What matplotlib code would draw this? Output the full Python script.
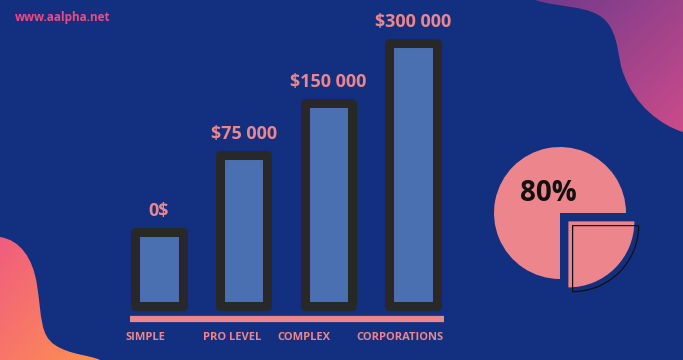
import numpy as np
import matplotlib
matplotlib.use('Agg')
from matplotlib import pyplot as plt
from matplotlib.path import Path
from matplotlib.patches import PathPatch

BG = '#12307f'
PINK = '#ec868c'
BAR_FILL = '#4a70b1'
BAR_EDGE = '#282828'
FONT = 'Open Sans'

categories = ['SIMPLE', 'PRO LEVEL', 'COMPLEX', 'CORPORATIONS']
value_labels = ['0$', '$75 000', '$150 000', '$300 000']
# drawn bar heights (relative)
bar_heights = [74, 151, 203, 263]
pie_shares = [75, 25]
pie_label = '80%'

W, H = 683, 360
fig = plt.figure(figsize=(W / 100, H / 100), dpi=100)
fig.patch.set_facecolor(BG)

# background layer in pixel coordinates
bg = fig.add_axes([0, 0, 1, 1])
bg.set_xlim(0, W)
bg.set_ylim(H, 0)
bg.axis('off')
bg.set_facecolor(BG)


def gradient_blob(ax, verts, codes, c0, c1, extent):
    path = Path(verts, codes)
    patch = PathPatch(path, facecolor='none', edgecolor='none')
    ax.add_patch(patch)
    t = np.linspace(0, 1, 200)
    g = (t[None, :] + t[:, None]) / 2
    c0 = np.array(c0) / 255.0
    c1 = np.array(c1) / 255.0
    img = c0[None, None, :] * (1 - g[..., None]) + c1[None, None, :] * g[..., None]
    im = ax.imshow(img, extent=extent, origin='upper', zorder=1, aspect='auto')
    im.set_clip_path(patch)


C = Path.CURVE4
tr_verts = [(535, 0), (560, 8), (590, 5), (605, 20),
            (620, 35), (617, 60), (624, 75),
            (635, 105), (660, 125), (683, 132),
            (683, 0), (535, 0)]
tr_codes = [Path.MOVETO, C, C, C, C, C, C, C, C, C, Path.LINETO, Path.CLOSEPOLY]
gradient_blob(bg, tr_verts, tr_codes, (112, 58, 140), (205, 75, 138), (535, 683, 135, 0))

bl_verts = [(0, 237), (20, 240), (33, 258), (37, 285),
            (42, 318), (40, 335), (55, 345),
            (70, 355), (90, 355), (100, 360),
            (0, 360), (0, 237)]
bl_codes = [Path.MOVETO, C, C, C, C, C, C, C, C, C, Path.LINETO, Path.CLOSEPOLY]
gradient_blob(bg, bl_verts, bl_codes, (240, 92, 128), (255, 145, 80), (0, 100, 360, 235))

bg.text(15, 17, 'www.aalpha.net', color='#ee4a80', fontsize=8.5, fontweight='bold',
        family=FONT, va='center', ha='left', zorder=3)

cat_x = [145, 232, 304, 400]
for x, c in zip(cat_x, categories):
    bg.text(x, 337, c, color=PINK, fontsize=8, fontweight='bold', family=FONT,
            ha='center', va='center', zorder=3)

# bar layer: x unit = bar spacing, y unit = pixels above baseline
ax = fig.add_axes([0, 0, 1, 1])
ax.patch.set_alpha(0)
step = 84.7
x0 = 159
ax.set_xlim(-x0 / step, (W - x0) / step)
ax.set_ylim(-(H - 305.5), 305.5)
ax.axis('off')

xs = np.arange(len(categories))
bars = ax.bar(xs, bar_heights, width=47.5 / step, color=BAR_FILL, edgecolor=BAR_EDGE,
              linewidth=6.5, joinstyle='round', zorder=3)
for b, lab in zip(bars, value_labels):
    ax.annotate(lab, (b.get_x() + b.get_width() / 2, b.get_height() + 4.5),
                xytext=(0, 5), textcoords='offset points', ha='center', va='bottom',
                color=PINK, fontsize=13, fontweight='bold', family=FONT)
ax.hlines(-13.5, (130 - x0) / step, (444 - x0) / step, color=PINK, linewidth=4.5, zorder=2)

# pie layer
pc = (560, 213)
R = 66
size = 200
pax = fig.add_axes([(pc[0] - size / 2) / W, (H - pc[1] - size / 2) / H, size / W, size / H])
pax.patch.set_alpha(0)
pax.pie(pie_shares, explode=[0, 0.18], startangle=0, colors=[PINK, PINK],
        radius=1, wedgeprops=dict(linewidth=0), frame=True)
outline, _ = pax.pie(pie_shares, explode=[0, 0.27], startangle=0, colors=['none', 'none'],
                     radius=1, wedgeprops=dict(linewidth=0.9, edgecolor='#111111'), frame=True)
outline[0].set_visible(False)
pax.set_xlim(-size / 2 / R, size / 2 / R)
pax.set_ylim(-size / 2 / R, size / 2 / R)
pax.set_aspect('equal')
pax.axis('off')
pax.text(-0.18, 0.29, pie_label, ha='center', va='center', fontsize=20,
         fontweight='bold', family=FONT, color='#111111')

fig.savefig('out.png', dpi=100, facecolor=BG)
